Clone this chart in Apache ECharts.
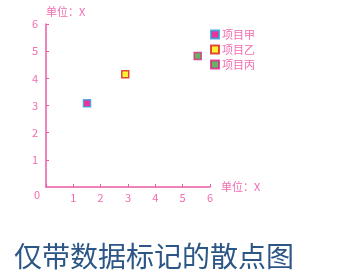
<!DOCTYPE html>
<html><head><meta charset="utf-8">
<script src="https://cdn.jsdelivr.net/npm/echarts@6/dist/echarts.min.js"></script>
<style>html,body{margin:0;padding:0;background:#fff}#c{width:356px;height:280px}</style>
</head><body><div id="c"></div>
<script>
var seriesNames = ['项目甲', '项目乙', '项目丙'];
var dataJia = [[1.5, 3.08]];
var dataYi = [[2.9, 4.15]];
var dataBing = [[5.55, 4.82]];
var xTicks = [0, 1, 2, 3, 4, 5, 6];
var yTicks = [0, 1, 2, 3, 4, 5, 6];
var axisName = '单位：X';
var titleText = '仅带数据标记的散点图';

var axisColor = '#ec5aa5';
var labelColor = '#f06cb0';
var font = '"Noto Sans CJK SC", sans-serif';
var chart = echarts.init(document.getElementById('c'));
chart.setOption({
  animation: false,
  title: {text: titleText, left: 9, top: 237, textStyle: {fontSize: 28, fontWeight: 'normal', color: '#2b5685', fontFamily: font}},
  legend: {orient: 'vertical', left: 205, top: 24, itemWidth: 8, itemHeight: 8, itemGap: 4,
    textStyle: {color: labelColor, fontSize: 11, fontFamily: font, padding: [0,0,0,-2]},
    data: seriesNames},
  grid: {left: 46, right: 146, top: 24, bottom: 93},
  xAxis: {type: 'value', min: xTicks[0], max: xTicks[xTicks.length-1], interval: 1,
    name: axisName, nameLocation: 'end', nameGap: 11,
    nameTextStyle: {color: labelColor, fontSize: 11, fontFamily: font},
    axisLine: {lineStyle: {color: axisColor, width: 1.5}},
    axisTick: {inside: true, length: 3, lineStyle: {color: axisColor}},
    splitLine: {show: false},
    axisLabel: {color: labelColor, fontSize: 11, fontFamily: font, margin: 5,
      formatter: function(v){ return v === 0 ? '{z|0}' : String(v); },
      rich: {z: {padding: [0, 18, 0, 0], lineHeight: 5, fontSize: 11, color: labelColor}}}
  },
  yAxis: {type: 'value', min: yTicks[0], max: yTicks[yTicks.length-1], interval: 1,
    name: axisName, nameLocation: 'end', nameGap: 7,
    nameTextStyle: {color: labelColor, fontSize: 11, fontFamily: font, align: 'left'},
    axisLine: {show: true, lineStyle: {color: axisColor, width: 1.5}},
    axisTick: {show: true, inside: true, length: 3, lineStyle: {color: axisColor}},
    splitLine: {show: false},
    axisLabel: {color: labelColor, fontSize: 11, fontFamily: font, margin: 8, showMinLabel: false}
  },
  series: [
    {name: seriesNames[0], type: 'scatter', symbol: 'rect', symbolSize: 7, data: dataJia,
     itemStyle: {color: '#e6007e', borderColor: '#2a9fe0', borderWidth: 1.5}},
    {name: seriesNames[1], type: 'scatter', symbol: 'rect', symbolSize: 7, data: dataYi,
     itemStyle: {color: '#ffee00', borderColor: '#d82020', borderWidth: 1.5}},
    {name: seriesNames[2], type: 'scatter', symbol: 'rect', symbolSize: 7, data: dataBing,
     itemStyle: {color: '#40a040', borderColor: '#e0208a', borderWidth: 1.5}}
  ]
});
</script></body></html>
